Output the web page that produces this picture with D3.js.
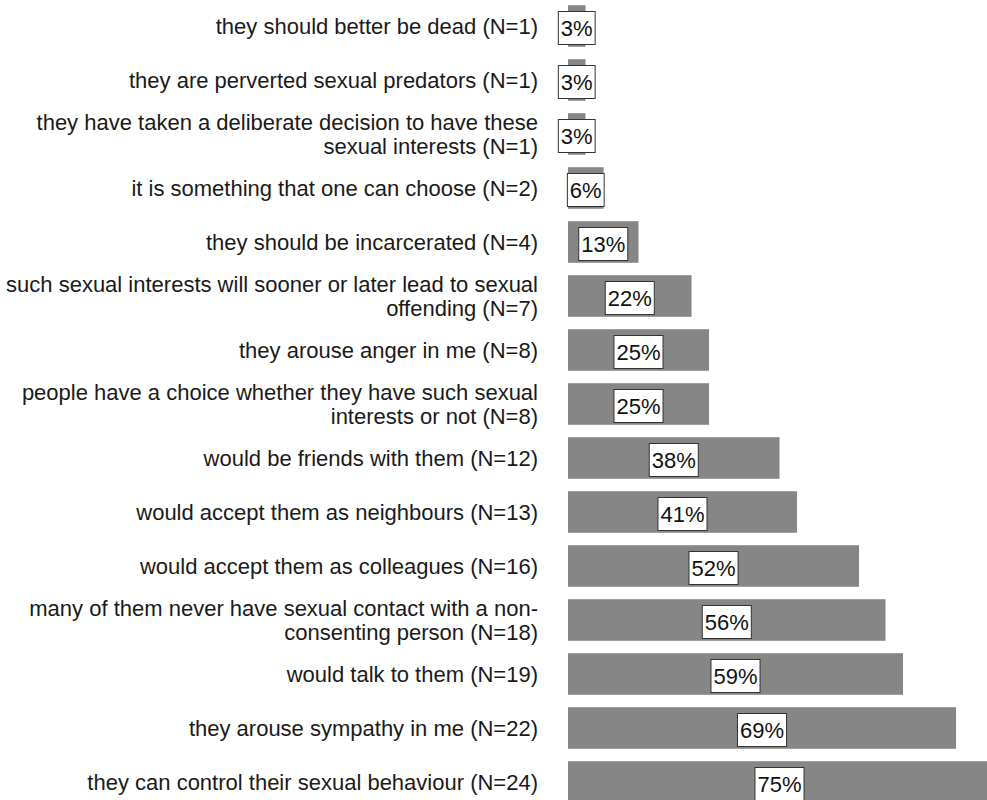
<!DOCTYPE html>
<html><head><meta charset="utf-8">
<script src="https://cdn.jsdelivr.net/npm/d3@7"></script>
<style>body{margin:0;background:#fff}svg{display:block}</style>
</head><body>
<script>
const categories = [
  "they should better be dead (N=1)",
  "they are perverted sexual predators (N=1)",
  "they have taken a deliberate decision to have these\nsexual interests (N=1)",
  "it is something that one can choose (N=2)",
  "they should be incarcerated (N=4)",
  "such sexual interests will sooner or later lead to sexual\noffending (N=7)",
  "they arouse anger in me (N=8)",
  "people have a choice whether they have such sexual\ninterests or not (N=8)",
  "would be friends with them (N=12)",
  "would accept them as neighbours (N=13)",
  "would accept them as colleagues (N=16)",
  "many of them never have sexual contact with a non-\nconsenting person (N=18)",
  "would talk to them (N=19)",
  "they arouse sympathy in me (N=22)",
  "they can control their sexual behaviour (N=24)"
];
const values = [3.1, 3.1, 3.1, 6.3, 12.5, 21.9, 25, 25, 37.5, 40.6, 51.6, 56.3, 59.4, 68.8, 75];
const valueLabels = ["3%","3%","3%","6%","13%","22%","25%","25%","38%","41%","52%","56%","59%","69%","75%"];

const W = 987, H = 800;
const svg = d3.select("body").append("svg").attr("width", W).attr("height", H);
const x = d3.scaleLinear().domain([0, 100]).range([568, 568 + 564]);
const y = d3.scaleBand().domain(d3.range(categories.length)).range([-1, -1 + 54 * categories.length]).paddingInner(0.23).paddingOuter(0.115);

const font = "'Liberation Sans', Arial, sans-serif";
const g = svg.append("g");

// bars
g.selectAll("rect.bar").data(values).join("rect")
  .attr("class", "bar")
  .attr("x", x(0)).attr("y", (d, i) => y(i))
  .attr("width", d => x(d) - x(0)).attr("height", y.bandwidth())
  .attr("fill", "#868686");

// category labels
categories.forEach((c, i) => {
  const lines = c.split("\n");
  const cy = y(i) + y.bandwidth() / 2;
  const lh = 23.5;
  const t = g.append("text").attr("text-anchor", "end").attr("font-family", font)
    .attr("font-size", 22).attr("fill", "#1a1a1a");
  lines.forEach((ln, k) => {
    t.append("tspan").attr("x", 538)
      .attr("y", cy + (k - (lines.length - 1) / 2) * lh + 8)
      .text(ln);
  });
});

// value boxes
values.forEach((v, i) => {
  const cx = (x(0) + x(v)) / 2;
  const cy = y(i) + y.bandwidth() / 2 + 2;
  const gg = g.append("g");
  const rect = gg.append("rect");
  const t = gg.append("text").attr("x", cx).attr("y", cy + 8)
    .attr("text-anchor", "middle").attr("font-family", font)
    .attr("font-size", 22).attr("fill", "#111").text(valueLabels[i]);
  const tw = t.node().getComputedTextLength();
  rect.attr("x", cx - tw / 2 - 2.5).attr("y", cy - 16.5)
    .attr("width", tw + 5).attr("height", 33)
    .attr("fill", "#fff").attr("stroke", "#333").attr("stroke-width", 1);
});
</script>
</body></html>
